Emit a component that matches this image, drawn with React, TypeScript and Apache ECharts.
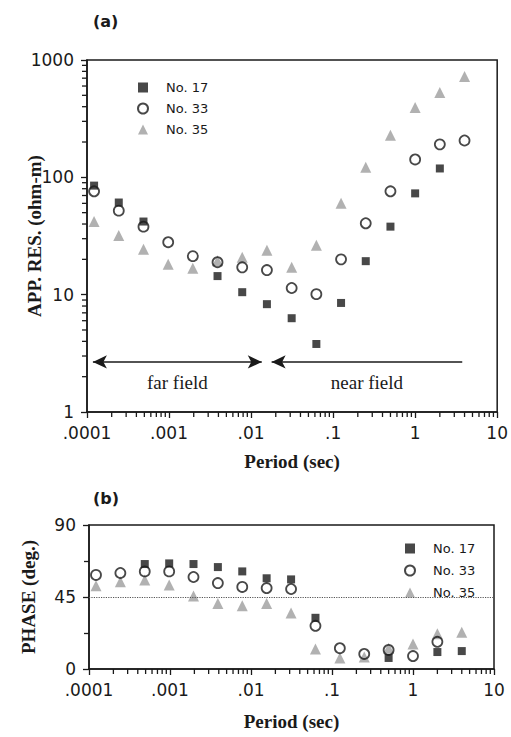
import React, { useEffect, useRef } from 'react';
import * as echarts from 'echarts';

// ---- data ----
const periods = [0.000122, 0.000244, 0.000488, 0.000977, 0.00195, 0.0039, 0.0078, 0.0156, 0.03125, 0.0625, 0.125, 0.25, 0.5, 1, 2, 4];
const resNo17 = [85, 61, 42, null, null, 14.4, 10.5, 8.3, 6.3, 3.8, 8.5, 19.3, 38, 73, 119, null];
const resNo33 = [76, 52, 38, 28, 21.3, 18.9, 17.1, 16.2, 11.4, 10.1, 20, 40.6, 76, 142, 191, 206];
const resNo35 = [42, 32, 24.4, 18.2, 16.8, 19.5, 20.8, 23.9, 17.1, 26.4, 60, 122, 228, 394, 529, 724];
const phaseNo17 = [null, null, 65.6, 66, 65.6, 63.7, 61, 56.7, 56, 32, null, null, 6.9, null, 10.6, 11.2];
const phaseNo33 = [58.8, 60, 61, 61, 57.5, 53.7, 51.3, 50.6, 50, 27, 13, 9.4, 11.9, 8.1, 17, null];
const phaseNo35 = [52, 54.5, 55.6, 52.5, 45.6, 41, 39.6, 41, 35, 12.5, 6.9, 7.5, 13, 15.6, 22, 23];
const seriesNames = ['No. 17', 'No. 33', 'No. 35'];
const periodTickLabels = ['.0001', '.001', '.01', '.1', '1', '10'];
const resTickLabels = ['1', '10', '100', '1000'];
const periodDecades = [-4, -3, -2, -1, 0];
const resDecades = [0, 1, 2];
const minorMultipliers = [2, 3, 4, 5, 6, 7, 8, 9];
// annotation arrows (data coordinates)
const arrowLevel = 2.67;
const farField = [0.000118, 0.0135];
const nearField = [0.0178, 3.75];
const phaseReference = 45;

const INK = '#1a1a1a';
const GREY = '#9d9d9d';
const SANS = '"DejaVu Sans", Verdana, sans-serif';
const SERIF = '"Liberation Serif", "Times New Roman", serif';

const pairs = (ys: (number | null)[]) =>
  periods.map((p, i) => [p, ys[i]]).filter((d) => d[1] !== null);

const minorValues = (decades: number[]) => {
  const out: number[] = [];
  decades.forEach((d) => minorMultipliers.forEach((m) => out.push(m * Math.pow(10, d))));
  return out;
};

const styles: Record<string, any> = {
  'No. 17': { symbol: 'rect', symbolSize: 8, itemStyle: { color: INK } },
  'No. 33': { symbol: 'circle', symbolSize: 10, itemStyle: { color: 'rgba(255,255,255,0)', borderColor: INK, borderWidth: 1.8 } },
  'No. 35': { symbol: 'triangle', symbolSize: 11, itemStyle: { color: GREY } },
};

export default function App() {
  const ref = useRef<HTMLDivElement>(null);
  useEffect(() => {
    if (!ref.current) return;
    const chart = echarts.init(ref.current, null, { renderer: 'svg' });

    const topData: Record<string, any[]> = {
      'No. 17': pairs(resNo17),
      'No. 33': pairs(resNo33),
      'No. 35': pairs(resNo35),
    };
    const botData: Record<string, any[]> = {
      'No. 17': pairs(phaseNo17),
      'No. 33': pairs(phaseNo33),
      'No. 35': pairs(phaseNo35),
    };
    const drawOrder = ['No. 35', 'No. 33', 'No. 17'];

    const topSeries = drawOrder.map((n) => ({
      type: 'scatter',
      name: n,
      xAxisIndex: 0,
      yAxisIndex: 0,
      data: topData[n],
      ...styles[n],
      ...(n === 'No. 17'
        ? {
            markLine: {
              silent: true,
              animation: false,
              symbolSize: [10, 14],
              lineStyle: { color: INK, width: 1.5, type: 'solid' },
              label: {
                show: true,
                position: 'insideMiddleBottom',
                distance: 11,
                color: INK,
                fontFamily: SERIF,
                fontSize: 19,
              },
              data: [
                [
                  { coord: [farField[0], arrowLevel], symbol: 'arrow', label: { formatter: 'far field' } },
                  { coord: [farField[1], arrowLevel], symbol: 'arrow' },
                ],
                [
                  { coord: [nearField[0], arrowLevel], symbol: 'arrow', label: { formatter: 'near field' } },
                  { coord: [nearField[1], arrowLevel], symbol: 'none' },
                ],
              ],
            },
          }
        : {}),
    }));

    const botSeries = drawOrder.map((n) => ({
      type: 'scatter',
      name: n,
      xAxisIndex: 1,
      yAxisIndex: 1,
      data: botData[n],
      ...styles[n],
      ...(n === 'No. 17'
        ? {
            markLine: {
              silent: true,
              animation: false,
              symbol: 'none',
              lineStyle: { color: '#555', width: 1.2, type: 'dotted' },
              label: { show: false },
              data: [{ yAxis: phaseReference }],
            },
          }
        : {}),
    }));

    const periodLabel = (v: number) => periodTickLabels[Math.round(Math.log10(v)) + 4] ?? '';
    const axisLabelBase = { color: INK, fontFamily: SANS, fontSize: 17 };
    const axisLineBase = { show: true, lineStyle: { color: INK, width: 1.5 } };
    const tickBase = { show: true, length: 6, lineStyle: { color: INK, width: 1.3 } };
    const titleName = { color: INK, fontFamily: SERIF, fontWeight: 'bold', fontSize: 19 };

    const legendBase = {
      orient: 'vertical',
      data: seriesNames,
      itemWidth: 10,
      itemHeight: 10,
      padding: 0,
      selectedMode: false,
      textStyle: { color: INK, fontFamily: SANS, fontSize: 13, padding: [0, 0, 0, 13] },
    };

    chart.setOption({
      animation: false,
      title: [
        { text: '(a)', left: 88, top: 8, textStyle: { fontFamily: SANS, fontWeight: 'bold', fontSize: 16, color: INK } },
        { text: '(b)', left: 88, top: 485, textStyle: { fontFamily: SANS, fontWeight: 'bold', fontSize: 16, color: INK } },
      ],
      legend: [
        { ...legendBase, left: 137, top: 81, itemGap: 8 },
        { ...legendBase, left: 404, top: 542, itemGap: 9 },
      ],
      grid: [
        { left: 87, top: 60, width: 411, height: 352, show: true, borderColor: INK, borderWidth: 1.5, backgroundColor: 'transparent' },
        { left: 89, top: 525, width: 405, height: 144, show: true, borderColor: INK, borderWidth: 1.5, backgroundColor: 'transparent' },
      ],
      xAxis: [
        {
          type: 'log', logBase: 10, gridIndex: 0, min: 0.0001, max: 10,
          name: 'Period (sec)', nameLocation: 'middle', nameGap: 40, nameMoveOverlap: false, nameTextStyle: titleName,
          axisLine: axisLineBase, axisTick: tickBase, splitLine: { show: false },
          axisLabel: { ...axisLabelBase, margin: 12, formatter: periodLabel },
        },
        {
          type: 'log', logBase: 10, gridIndex: 1, min: 0.0001, max: 10,
          name: 'Period (sec)', nameLocation: 'middle', nameGap: 43, nameMoveOverlap: false, nameTextStyle: titleName,
          axisLine: axisLineBase, axisTick: tickBase, splitLine: { show: false },
          axisLabel: { ...axisLabelBase, margin: 12, formatter: periodLabel },
        },
      ],
      yAxis: [
        {
          type: 'log', logBase: 10, gridIndex: 0, min: 1, max: 1000,
          name: 'APP. RES. (ohm-m)', nameLocation: 'middle', nameGap: 43, nameRotate: 90, nameMoveOverlap: false, nameTextStyle: titleName,
          axisLine: axisLineBase, axisTick: tickBase, splitLine: { show: false },
          axisLabel: { ...axisLabelBase, margin: 13, formatter: (v: number) => resTickLabels[Math.round(Math.log10(v))] ?? '' },
        },
        {
          type: 'value', gridIndex: 1, min: 0, max: 90, interval: 45,
          name: 'PHASE (deg.)', nameLocation: 'middle', nameGap: 51, nameRotate: 90, nameMoveOverlap: false, nameTextStyle: titleName,
          axisLine: axisLineBase, axisTick: tickBase, splitLine: { show: false },
          minorTick: { show: true, splitNumber: 2, length: 5, lineStyle: { color: INK, width: 1.3 } },
          axisLabel: { ...axisLabelBase, margin: 13 },
        },
      ],
      series: [...topSeries, ...botSeries],
    });

    // minor ticks of the log axes, positioned through the axes' own scales
    const ticks: any[] = [];
    const tickStyle = { stroke: INK, lineWidth: 1.3 };
    minorValues(periodDecades).forEach((v) => {
      const a = chart.convertToPixel({ gridIndex: 0 } as any, [v, 1]) as number[];
      const b = chart.convertToPixel({ gridIndex: 1 } as any, [v, 0]) as number[];
      [a, b].forEach((p) => {
        if (p && isFinite(p[0]) && isFinite(p[1])) {
          ticks.push({ type: 'line', silent: true, z: 10, shape: { x1: p[0], y1: p[1], x2: p[0], y2: p[1] + 5 }, style: tickStyle });
        }
      });
    });
    minorValues(resDecades).forEach((v) => {
      const p = chart.convertToPixel({ gridIndex: 0 } as any, [0.0001, v]) as number[];
      if (p && isFinite(p[0]) && isFinite(p[1])) {
        ticks.push({ type: 'line', silent: true, z: 10, shape: { x1: p[0], y1: p[1], x2: p[0] - 5, y2: p[1] }, style: tickStyle });
      }
    });
    chart.setOption({ graphic: ticks });

    return () => chart.dispose();
  }, []);

  return (
    <div
      ref={ref}
      style={{ position: 'absolute', left: 0, top: 0, width: 511, height: 737, background: '#fff' }}
    />
  );
}
